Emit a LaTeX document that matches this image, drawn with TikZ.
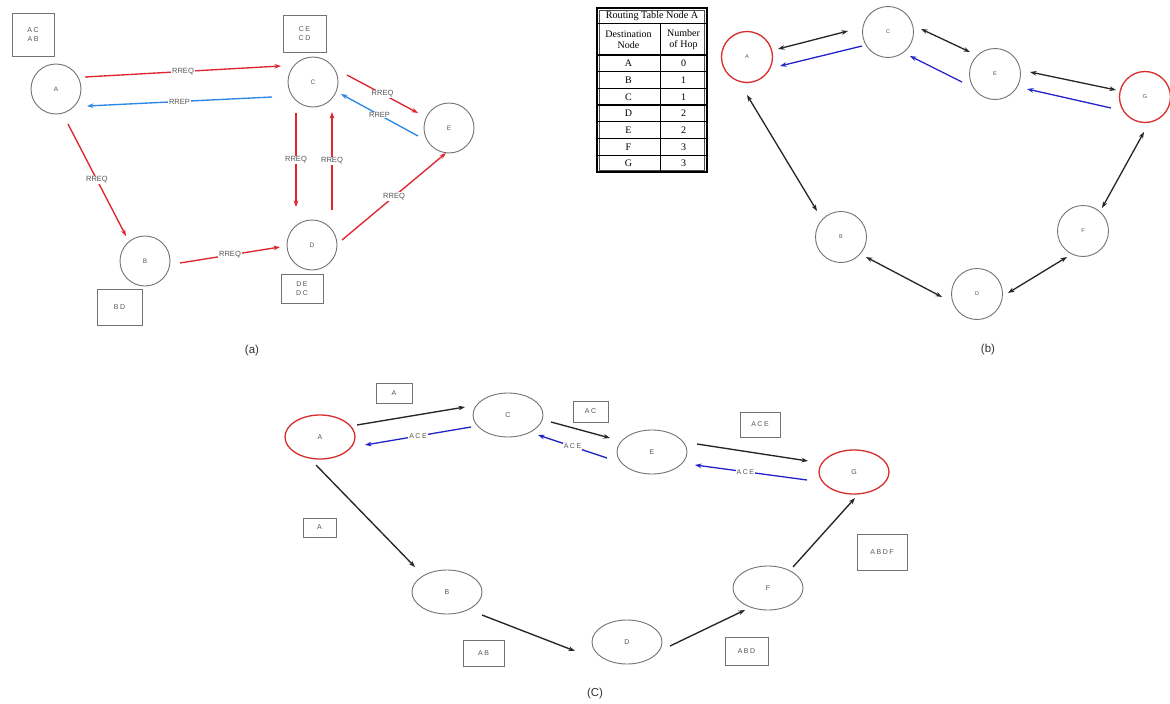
\documentclass[tikz,border=0pt]{standalone}
\usepackage{fontspec}
\setmainfont{Liberation Sans}
\newfontfamily\tabfont{Liberation Serif}
\newfontfamily\spfont[LetterSpace=22]{Liberation Sans}
\usetikzlibrary{arrows.meta,calc,shapes.geometric}
\definecolor{rq}{RGB}{222,38,48}
\definecolor{rpa}{RGB}{45,135,228}
\definecolor{rpb}{RGB}{35,35,200}
\definecolor{ng}{RGB}{115,115,115}
\definecolor{lg}{RGB}{85,85,85}
\definecolor{rc}{RGB}{215,45,45}
\begin{document}
\begin{tikzpicture}[x=1pt,y=-1pt,
  tip/.style={-{Stealth[length=6.5pt,width=4.6pt]}},
  both/.style={{Stealth[length=6.5pt,width=4.6pt]}-{Stealth[length=6.5pt,width=4.6pt]}},
  anode/.style={circle,draw=ng,line width=0.9pt,minimum size=50pt,inner sep=0pt,text=lg,font=\fontsize{6.5}{7}\selectfont},
  bnode/.style={circle,draw=ng,line width=0.9pt,minimum size=51pt,inner sep=0pt,text=lg,font=\fontsize{5.5}{6}\selectfont},
  cnode/.style={ellipse,draw=ng,line width=0.9pt,minimum width=70pt,minimum height=44pt,inner sep=0pt,text=lg,font=\fontsize{7}{8}\selectfont},
  dest/.style={draw=rc,line width=1.3pt},
  tagbox/.style={rectangle,draw=ng,line width=0.9pt,inner sep=0pt,align=center,text=lg,font=\spfont\fontsize{7}{9}\selectfont},
  rqline/.style={draw=rq,line width=1.35pt,tip},
  rpline/.style={draw=rpa,line width=1.35pt,tip},
  bkboth/.style={draw=black!85,line width=1.3pt,both},
  bkone/.style={draw=black!85,line width=1.35pt,tip},
  blline/.style={draw=rpb,line width=1.3pt,tip},
  lab/.style={fill=white,inner sep=0.8pt,text=lg,font=\fontsize{7.5}{8}\selectfont},
  clab/.style={fill=white,inner sep=0.8pt,text=lg,font=\spfont\fontsize{7}{8}\selectfont},
  panelcap/.style={text=black!80,font=\fontsize{11.5}{13}\selectfont},
  tcell/.style={text=black,font=\tabfont\fontsize{10}{11}\selectfont,align=center,inner sep=0pt}
]
\fill[white] (0,0) rectangle (1170,704);
\useasboundingbox (0,0) rectangle (1170,704);

% ---------------- panel (a) ----------------
\node[anode] (aA) at (56,89) {A};
\node[anode] (aC) at (313,82) {C};
\node[anode] (aE) at (449,128) {E};
\node[anode] (aB) at (145,261) {B};
\node[anode] (aD) at (312,245) {D};

\node[tagbox,minimum width=42pt,minimum height=43pt] (aAt) at (33,34.5) {AC\\AB};
\node[tagbox,minimum width=43pt,minimum height=37pt] (aCt) at (304.5,33.5) {CE\\CD};
\node[tagbox,minimum width=45pt,minimum height=36pt] (aBt) at (119.5,307) {BD};
\node[tagbox,minimum width=42pt,minimum height=29pt] (aDt) at (302,288.5) {DE\\DC};

\draw[rqline] ($(aA)+(29,-12)$) -- node[lab]{RREQ} ($(aC)+(-32,-16)$);
\draw[rpline] ($(aC)+(-41,15)$) -- node[lab]{RREP} ($(aA)+(31,17)$);
\draw[rqline] ($(aC)+(34,-7)$) -- node[lab]{RREQ} ($(aE)+(-31,-15)$);
\draw[rpline] ($(aE)+(-31,8)$) -- node[lab]{RREP} ($(aC)+(28,12)$);
\draw[rqline] ($(aC)+(-17,31)$) -- node[lab]{RREQ} ($(aD)+(-16,-38)$);
\draw[rqline] ($(aD)+(20,-35)$) -- node[lab]{RREQ} ($(aC)+(19,30)$);
\draw[rqline] ($(aD)+(30,-5)$) -- node[lab]{RREQ} ($(aE)+(-3,25)$);
\draw[rqline] ($(aA)+(12,35)$) -- node[lab]{RREQ} ($(aB)+(-19,-25)$);
\draw[rqline] ($(aB)+(35,2)$) -- node[lab]{RREQ} ($(aD)+(-32,2)$);

\node[panelcap] (capa) at (252,351) {(a)};

% ---------------- panel (b) ----------------
% routing table
\draw[line width=1.3pt] (597,8) rectangle (707,172);
\draw[line width=0.4pt,black!70] (599.5,10) rectangle (704.5,170);
\draw[line width=0.6pt] (597,23.5) -- (707,23.5);
\draw[line width=1.4pt] (597,55) -- (707,55);
\foreach \yy in {71.7,88.4,105.1,121.8,138.5,155.2}
  \draw[line width=1.3pt] (597,\yy) -- (707,\yy);
\draw[line width=0.7pt] (660,23.5) -- (660,172);
\node[tcell,font=\tabfont\fontsize{10.2}{11}\selectfont] (ttl) at (652,16) {Routing Table Node A};
\node[tcell] (th1) at (628.5,39.5) {Destination\\Node};
\node[tcell] (th2) at (683.5,39.5) {Number\\of Hop};
\foreach \l/\v [count=\i] in {A/0,B/1,C/1,D/2,E/2,F/3,G/3}{
  \node[tcell] (tl\i) at (628.5,{55+16.7*(\i-0.5)}) {\l};
  \node[tcell] (tv\i) at (683.5,{55+16.7*(\i-0.5)}) {\v};
}

\node[bnode,dest] (bA) at (747,57) {A};
\node[bnode] (bC) at (888,32) {C};
\node[bnode] (bE) at (995,74) {E};
\node[bnode,dest] (bG) at (1145,97) {G};
\node[bnode] (bB) at (841,237) {B};
\node[bnode] (bD) at (977,294) {D};
\node[bnode] (bF) at (1083,231) {F};

\draw[bkboth] ($(bA)+(31,-8)$) -- ($(bC)+(-40,-1)$);
\draw[blline] ($(bC)+(-26,14)$) -- ($(bA)+(33,9)$);
\draw[bkboth] ($(bC)+(33,-3)$) -- ($(bE)+(-25,-22)$);
\draw[blline] ($(bE)+(-33,8)$) -- ($(bC)+(22,24)$);
\draw[bkboth] ($(bE)+(35,-2)$) -- ($(bG)+(-29,-7)$);
\draw[blline] ($(bG)+(-34,11)$) -- ($(bE)+(32,15)$);
\draw[bkboth] ($(bA)+(0,38)$) -- ($(bB)+(-24,-26)$);
\draw[bkboth] ($(bB)+(25,20)$) -- ($(bD)+(-35,3)$);
\draw[bkboth] ($(bD)+(31,-1)$) -- ($(bF)+(-16,26)$);
\draw[bkboth] ($(bF)+(19,-23)$) -- ($(bG)+(-1,35)$);

\node[panelcap] (capb) at (988,350) {(b)};

% ---------------- panel (c) ----------------
\node[cnode,dest] (cA) at (320,437) {A};
\node[cnode] (cC) at (508,415) {C};
\node[cnode] (cE) at (652,452) {E};
\node[cnode,dest] (cG) at (854,472) {G};
\node[cnode] (cF) at (768,588) {F};
\node[cnode] (cD) at (627,642) {D};
\node[cnode] (cB) at (447,592) {B};

\node[tagbox,minimum width=36pt,minimum height=20pt] (cT1) at (394,393) {A};
\node[tagbox,minimum width=35pt,minimum height=21pt] (cT2) at (590.5,411.5) {AC};
\node[tagbox,minimum width=40pt,minimum height=25pt] (cT3) at (760,424.5) {ACE};
\node[tagbox,minimum width=50pt,minimum height=36pt] (cT4) at (882,552) {ABDF};
\node[tagbox,minimum width=43pt,minimum height=28pt] (cT5) at (746.5,651) {ABD};
\node[tagbox,minimum width=33pt,minimum height=19pt] (cT6) at (319.5,527.5) {A};
\node[tagbox,minimum width=41pt,minimum height=26pt] (cT7) at (483.5,653) {AB};

\draw[bkone] ($(cA)+(37,-12)$) -- ($(cC)+(-43,-8)$);
\draw[blline] ($(cC)+(-37,12)$) -- node[clab]{ACE} ($(cA)+(45,8)$);
\draw[bkone] ($(cC)+(43,7)$) -- ($(cE)+(-42,-14)$);
\draw[blline] ($(cE)+(-45,6)$) -- node[clab]{ACE} ($(cC)+(30,20)$);
\draw[bkone] ($(cE)+(45,-8)$) -- ($(cG)+(-46,-11)$);
\draw[blline] ($(cG)+(-47,8)$) -- node[clab,pos=0.55]{ACE} ($(cE)+(43,13)$);
\draw[bkone] ($(cA)+(-4,28)$) -- ($(cB)+(-32,-25)$);
\draw[bkone] ($(cB)+(35,23)$) -- ($(cD)+(-52,9)$);
\draw[bkone] ($(cD)+(43,4)$) -- ($(cF)+(-23,22)$);
\draw[bkone] ($(cF)+(25,-21)$) -- ($(cG)+(1,26)$);

\node[panelcap] (capc) at (595,694) {(C)};
\end{tikzpicture}
\end{document}
